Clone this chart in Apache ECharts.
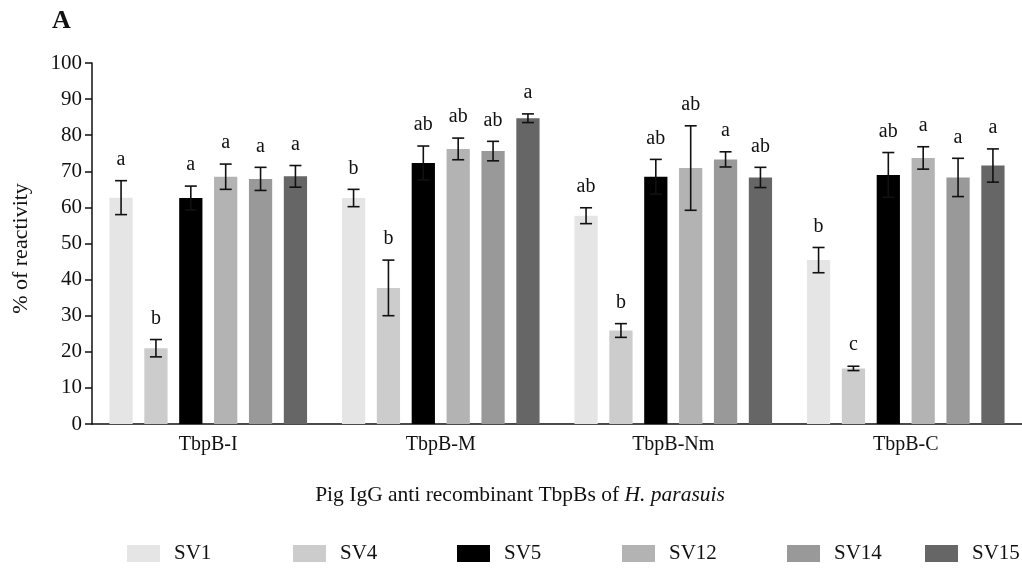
<!DOCTYPE html>
<html>
<head>
<meta charset="utf-8">
<script src="https://cdn.jsdelivr.net/npm/echarts@6/dist/echarts.min.js"></script>
<style>html,body{margin:0;padding:0;background:#fff;}#c{width:1022px;height:575px;}</style>
</head>
<body>
<div id="c"></div>
<script>
const categories = ['TbpB-I', 'TbpB-M', 'TbpB-Nm', 'TbpB-C'];
const seriesNames = ['SV1', 'SV4', 'SV5', 'SV12', 'SV14', 'SV15'];
const yTicks = [0, 10, 20, 30, 40, 50, 60, 70, 80, 90, 100];

const sv1 = [62.7, 62.6, 57.7, 45.4];
const sv4 = [21.0, 37.7, 25.9, 15.4];
const sv5 = [62.6, 72.3, 68.5, 69.0];
const sv12 = [68.5, 76.2, 70.9, 73.7];
const sv14 = [67.9, 75.6, 73.3, 68.3];
const sv15 = [68.6, 84.7, 68.3, 71.6];

const sv1Err = [4.7, 2.4, 2.2, 3.5];
const sv4Err = [2.4, 7.7, 1.9, 0.6];
const sv5Err = [3.3, 4.7, 4.8, 6.2];
const sv12Err = [3.5, 3.0, 11.7, 3.1];
const sv14Err = [3.2, 2.7, 2.1, 5.3];
const sv15Err = [3.0, 1.2, 2.8, 4.6];

const sv1Letters = ['a', 'b', 'ab', 'b'];
const sv4Letters = ['b', 'b', 'b', 'c'];
const sv5Letters = ['a', 'ab', 'ab', 'ab'];
const sv12Letters = ['a', 'ab', 'ab', 'a'];
const sv14Letters = ['a', 'ab', 'a', 'a'];
const sv15Letters = ['a', 'a', 'ab', 'a'];

const means = [sv1, sv4, sv5, sv12, sv14, sv15];
const errs = [sv1Err, sv4Err, sv5Err, sv12Err, sv14Err, sv15Err];
const letters = [sv1Letters, sv4Letters, sv5Letters, sv12Letters, sv14Letters, sv15Letters];
const colors = ['#e5e5e5', '#cccccc', '#000000', '#b3b3b3', '#999999', '#666666'];

const FONT = "'Liberation Serif', 'Times New Roman', serif";
const BAR_FRAC = 0.10;   // bar width as fraction of category band
const STEP_FRAC = 0.15;  // bar step as fraction of category band

const series = [];
seriesNames.forEach((name, k) => {
  series.push({
    type: 'bar', name: name, data: means[k],
    barWidth: (BAR_FRAC * 100) + '%', barGap: '50%',
    itemStyle: { color: colors[k] },
    z: 2
  });
});
seriesNames.forEach((name, k) => {
  series.push({
    type: 'custom', name: 'err_' + name, z: 5,
    encode: { x: 0, y: 1 },
    data: categories.map((c, i) => [i, means[k][i], errs[k][i]]),
    renderItem: function (params, api) {
      const cat = api.value(0), m = api.value(1), e = api.value(2);
      const band = api.size([1, 0])[0];
      const cx = api.coord([cat, m])[0] + (k - 2.5) * band * STEP_FRAC;
      const yHi = api.coord([cat, m + e])[1];
      const yLo = api.coord([cat, m - e])[1];
      const cap = 6;
      const st = { stroke: '#111', lineWidth: 1.6 };
      return {
        type: 'group',
        children: [
          { type: 'line', shape: { x1: cx, y1: yHi, x2: cx, y2: yLo }, style: st },
          { type: 'line', shape: { x1: cx - cap, y1: yHi, x2: cx + cap, y2: yHi }, style: st },
          { type: 'line', shape: { x1: cx - cap, y1: yLo, x2: cx + cap, y2: yLo }, style: st },
          { type: 'text', style: { text: letters[k][params.dataIndex], x: cx, y: yHi - 11,
              align: 'center', verticalAlign: 'bottom', fill: '#111', font: '20px ' + FONT } }
        ]
      };
    }
  });
});

const legendLefts = [122, 288, 452, 617, 782, 920];
const legends = seriesNames.map((n, k) => ({
  data: [n], left: legendLefts[k], top: 538,
  itemWidth: 33, itemHeight: 17, icon: 'rect',
  textStyle: { fontFamily: FONT, fontSize: 21, color: '#111', padding: [0, 0, 0, 9] }
}));

const chart = echarts.init(document.getElementById('c'));
chart.setOption({
  animation: false,
  backgroundColor: '#fff',
  grid: { left: 92, right: -11, top: 63, bottom: 151, containLabel: false },
  legend: legends,
  xAxis: {
    type: 'category', data: categories,
    axisLine: { lineStyle: { color: '#111', width: 1.5 } },
    axisTick: { alignWithLabel: true, length: 6, lineStyle: { color: '#111', width: 1.5 } },
    axisLabel: { fontFamily: FONT, fontSize: 20, color: '#111', margin: 11 },
    splitLine: { show: false }
  },
  yAxis: {
    type: 'value', min: yTicks[0], max: yTicks[yTicks.length - 1], interval: 10,
    name: '% of reactivity', nameLocation: 'middle', nameGap: 60, nameRotate: 90,
    nameTextStyle: { fontFamily: FONT, fontSize: 22, color: '#111', padding: [0, 10, 0, 0] },
    axisLine: { show: true, lineStyle: { color: '#111', width: 1.5 } },
    axisTick: { show: true, length: 7, lineStyle: { color: '#111', width: 1.5 } },
    axisLabel: { fontFamily: FONT, fontSize: 21, color: '#111', margin: 10 },
    splitLine: { show: false }
  },
  graphic: [
    { type: 'text', left: 52, top: 8,
      style: { text: 'A', font: 'bold 26px ' + FONT, fill: '#111' } },
    { type: 'text', x: 520, y: 495,
      style: { text: 'Pig IgG anti recombinant TbpBs of {i|H. parasuis}', align: 'center', verticalAlign: 'middle',
        font: '21.5px ' + FONT, fill: '#111',
        rich: { i: { fontStyle: 'italic', fontFamily: FONT, fontSize: 21.5, fill: '#111' } } } }
  ],
  series: series
});
</script>
</body>
</html>
